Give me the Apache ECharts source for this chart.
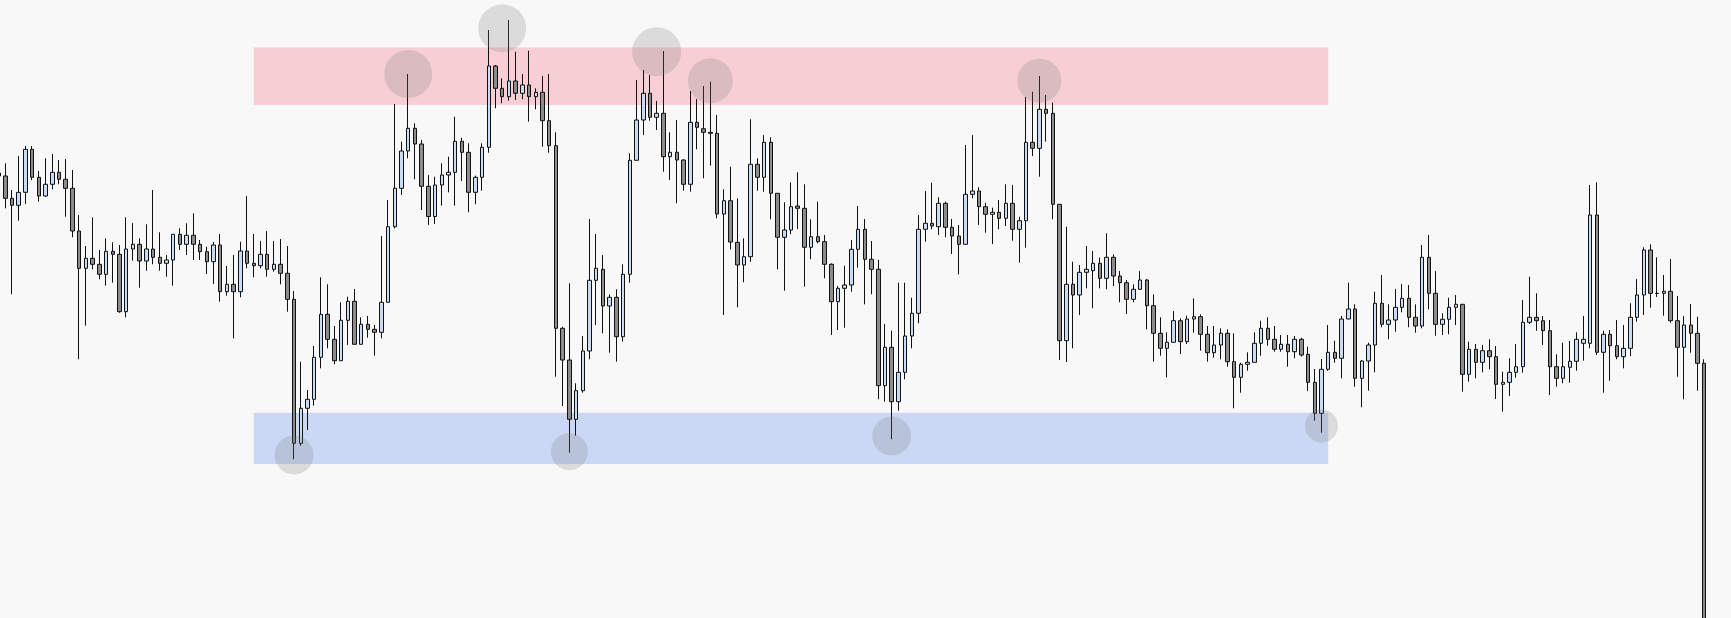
<!DOCTYPE html>
<html>
<head>
<meta charset="utf-8">
<script src="https://cdn.jsdelivr.net/npm/echarts@6/dist/echarts.min.js"></script>
<style>
html,body{margin:0;padding:0;background:#f8f8f8;overflow:hidden;width:1731px;height:618px;position:relative;}
#chart{position:absolute;left:-10px;top:0;width:1741px;height:618px;}
</style>
</head>
<body>
<div id="chart"></div>
<script>
// OHLC values (price units), one entry per candle
const opens = [
445,442,419.7,412.7,425.7,468.7,440.7,422,433.7,445.7,
438.7,429.7,387,349.7,359.7,353.7,343.7,366.7,363.7,306.3,
369,373.7,357,369,360.7,354.7,358,383.7,373.7,382.7,
373.7,366.3,356.3,373,326.3,333.7,326.3,367,354.7,352.3,
363.7,348.7,353.7,344.7,318.7,174.7,209.7,218.7,260.7,303.7,
278.7,257.3,297.7,316.7,273.7,293.7,288.7,285.7,315.7,391.3,
429.7,467,489.7,474,431.7,401.5,433,443,445.7,476.7,
465.7,425.7,440.7,470.7,552,529.7,521.3,537,524.7,533,
521.3,525.7,497.3,472.3,289.7,258,198.7,227.3,267,337.7,
348.7,312,320.7,281.3,343.7,457.7,498,524.7,500.7,504.7,
461.3,465.7,458,433.7,495.7,489.3,485.7,484.7,404,417.3,
375.7,353,361.3,453.7,440.7,475.7,424.7,380.7,388,412,
409.7,370.7,381.3,376.3,353.7,316.3,329.7,333,368.7,388.7,
358.7,348.7,232.3,270.7,216.3,245.7,282,304.7,388.7,394.7,
391.3,414.7,390.7,382,373.7,423.7,427,411.3,403.7,405.7,
399.7,414.7,388.7,397.3,475.7,469.7,508.7,504.7,413.7,277.3,
333.7,323,345.7,347.3,354.7,339.7,360.7,342,335.3,318.7,
328.7,338,312.3,284.7,269.7,275.7,297.3,276.3,299,301.3,
283.7,265.3,273,284.7,256.3,240.7,253.7,255.7,274.7,289.7,
278.7,268.7,273.7,266.3,278.7,263.7,235.7,204.7,248.7,265.7,
259.7,299,309,239.7,257,273,314.7,293.7,298,310.7,
319.7,300.7,292,360.7,324.7,293.7,298.7,310.7,313.7,243.7,
268.7,255.7,267.3,261.3,233.7,235.7,245.7,251.3,295.7,300.7,
297.3,287.3,251.3,239.7,250.7,256.7,274.7,274.7,403,265.7,
283.7,272.3,261.3,269.7,300.7,323,368,324.7,324.7,326.7,
297.3,270.7,293,284.7,254.7
];
const closes = [
442,419.7,412.7,425.7,468.7,440.7,422,433.7,445.7,438.7,
429.7,387,349.7,359.7,353.7,343.7,366.7,363.7,306.3,369,
373.7,357,369,360.7,354.7,358,383.7,373.7,382.7,373.7,
366.3,356.3,373,326.3,333.7,326.3,367,354.7,352.3,363.7,
348.7,353.7,344.7,318.7,174.7,209.7,218.7,260.7,303.7,278.7,
257.3,297.7,316.7,273.7,293.7,288.7,285.7,315.7,391.3,429.7,
467,489.7,474,431.7,401.5,433,443,445.7,476.7,465.7,
425.7,440.7,470.7,552,529.7,521.3,537,524.7,533,521.3,
525.7,497.3,472.3,289.7,258,198.7,227.3,267,337.7,349.7,
312,320.7,281.3,343.7,457.7,498,524.7,500.7,504.7,461.3,
465.7,458,433.7,495.7,490.7,485.7,484.7,404,417.3,376,
353,361.3,453.7,440.7,475.7,424.7,380.7,388,411.3,409.7,
370.7,381.3,376.3,353.7,316.3,329.7,333,368.7,388.7,358.7,
348.7,232.3,270.7,216.3,245.7,282,304.7,388.7,394.7,392,
414.7,390.7,382,373.7,423.7,427,411.3,403.7,405.7,399.7,
414.7,388.7,397.3,475.7,469.7,508.7,504.7,413.7,277.3,333.7,
323,345.7,348.7,354.7,339.7,360.7,342,335.3,318.7,328.7,
338,312.3,284.7,269.7,275.7,297.3,276.3,299,301.3,283.7,
265.3,273,284.7,256.3,240.7,253.7,255.7,274.7,289.7,278.7,
268.7,273.7,266.3,278.7,263,235.7,204.7,248.7,265.7,259.7,
299,309,239.7,257,273,314.7,293.7,298,310.7,319.7,
300.7,292,360.7,324.7,293.7,298.7,310.7,313.7,243.7,268.7,
255.7,267.3,261.3,233.7,235.7,245.7,251.3,295.7,300.7,297.3,
287.3,251.3,239.7,251.3,256.7,278.7,278.7,403,265.7,283.7,
272.3,261.3,269.7,300.7,323,368,324.7,324.5,326.7,297.3,
270.7,293,284.7,254.7,-40
];
const lows = [
438,409.7,323.7,397.3,414,438,416.3,421.3,428.7,433.7,
401.3,380.7,258.7,292.3,348.7,338.7,332.3,335.3,305.3,300.7,
357.3,330.3,347.3,353.7,347.3,341.3,332.3,368,363,358,
358,344,334,316.3,322.3,279.7,320.7,349.7,340.7,349.7,
341.3,346.3,333.7,306.3,158.7,172.3,188,212.3,249.7,269.7,
253.7,257.3,273,273.7,273.7,280.3,262.3,279.7,315.3,389.7,
423,459.7,438.7,408,393,394,412.3,425.7,412.3,437,
405.7,413.7,427.3,465.3,509.7,514.7,517.3,518,518.7,496.3,
508.7,471.3,465.3,241.3,212,165.3,182.3,225.3,258.7,293,
284.7,265.3,256.3,276.3,335.3,457.7,483,497.3,488,446.3,
438,414.7,427.3,426.3,468.7,439.7,452.3,399.7,303,368.7,
310.7,335.7,356.3,427.3,426.3,398.7,348.7,327.3,383.7,389,
331.3,358.7,374.7,339.7,283,288,290.3,326.3,350.3,313.7,
323.7,218.7,216.3,178.7,207.3,238.7,269.7,294.7,376.3,388.7,
383,380.7,364,343.7,373.7,419.7,393,385.3,374,388.7,
392,377.3,355.3,370.3,462,441.3,476.3,398.7,258,256,
269.7,303,329.7,309.7,329.7,328.7,332,315.7,304,315.7,
328,288.7,256.3,262.3,240.7,275.7,264,274,285.3,267.3,
256.3,260.3,258.7,251.3,209.7,225.3,247.3,255.7,262.3,272.3,
266.3,266.3,251.3,259.7,261.3,227,197.3,185.3,247.3,255.3,
239.7,298.7,231.3,210.7,227.3,245.7,290.7,278.7,286.3,305.7,
290.7,285.3,289.7,308.7,282.3,283,283.7,293,226.3,236.3,
239.7,245.7,248.7,219,206.3,222,240.3,245.3,294,287.3,
273,223,231.3,234.7,235.3,247.3,257.3,269.7,263,225.3,
237.3,258.7,249.7,262,296.3,303,310.3,321,302.3,295.3,
241.3,218.7,265.3,227.3,-50
];
const highs = [
448,454.7,428,462,472,472,447,459.7,464,458,
459,448,403,372,400.7,368,379.7,375.7,373,400.7,
395,379.7,393.7,428,385.7,363,383.7,389.7,394.7,404.7,
378,371.3,376,384,352,363,376.3,422,384,377,
387,377,379,372,327,256.3,228,272,340.7,333.7,
292,315.7,321.3,329,300.7,302,293,382,418,514,
476.3,544,494.7,478,443,441.3,454.7,461.3,501.3,480.3,
474.7,442.3,474.7,588,553,539.7,598,566.3,544,567.3,
529.7,542,544,485.7,291.3,334.7,234.7,282,399,384,
363,323.7,328.7,353.7,464.7,538,548,543,517,567,
485.7,498,458.7,527,519,532,536.3,503,428.7,451.3,
419.7,379.7,498.7,459.7,483,480.7,424.7,415.7,435.7,445.7,
433.7,398.7,416.3,383,354.7,332,352.3,378,412,399,
377,358,294,287.3,335.3,335.3,320.3,403,427,435.3,
420.7,416.3,399,393,473,483,430.7,415.3,410.3,418,
433.7,433,401.3,521,526.3,542,523,515.3,413.7,391.3,
356.3,353,372,367,360.3,384.7,363.7,347,338,333.7,
347,339,323.7,300.7,285.7,307,299.7,302.3,319.7,303.7,
292,292,289.7,288.7,284.7,255.3,265.7,285.7,297.3,300.7,
292,283,283,282,280.3,271.3,249,259,293,277.3,
302,335.3,313.7,258,275.3,326.3,343,313.7,329,334,
333,313.7,373,383,347,304.7,320.3,323,313.7,276.3,
274,273,278.7,272,246.3,259.7,274,318,341.3,324.7,
302,298,263.7,275.3,277,285.7,302,433,435.7,287.3,
288,298,293,314.7,339,370.7,373.7,360.7,343,359,
322,302,314,301.3,258.7
];
// candle labels (no visible axis labels in the reference)
const categories = [];
for (let i = 0; i < opens.length; i++) categories.push(String(i + 1));

// highlighted turning points: candle index and price
const markIdx = [44, 61, 75, 85, 98, 106, 133, 155, 197];
const markPrice = [163, 544, 589.7, 166.3, 566.3, 537.3, 182, 537.3, 192];
// zones: [startIdx, endIdx, lowPrice, highPrice]
const resistanceZone = [38, 198, 513, 570.5];
const supportZone = [38, 198, 154, 205.3];

// styling (sizes of highlight circles, px)
const markSizes = [39, 48, 48, 37, 49, 45, 39, 44, 33];

const ohlc = opens.map((o, i) => [o, closes[i], lows[i], highs[i]]);
const marks = markIdx.map((x, i) => ({ value: [x, markPrice[i]], symbolSize: markSizes[i] }));

const chart = echarts.init(document.getElementById('chart'), null, { renderer: 'canvas' });
chart.setOption({
  animation: false,
  backgroundColor: '#f8f8f8',
  grid: { left: 5.24, right: 23.4, top: 0, bottom: 0 },
  xAxis: {
    type: 'category', data: categories, boundaryGap: true,
    show: false
  },
  yAxis: { type: 'value', min: 0, max: 618, show: false, splitLine: { show: false } },
  series: [
    {
      type: 'line', data: [], z: 1, silent: true,
      markArea: {
        silent: true,
        data: [
          [{ xAxis: resistanceZone[0], yAxis: resistanceZone[3], itemStyle: { color: '#f6ced4' } },
           { xAxis: resistanceZone[1], yAxis: resistanceZone[2] }],
          [{ xAxis: supportZone[0], yAxis: supportZone[3], itemStyle: { color: '#cbd8f5' } },
           { xAxis: supportZone[1], yAxis: supportZone[2] }]
        ]
      }
    },
    {
      type: 'candlestick', data: ohlc, z: 5, barWidth: 4, silent: true,
      itemStyle: {
        color: '#c8dcf5', color0: '#8c8c8c',
        borderColor: '#111111', borderColor0: '#111111', borderColorDoji: '#111111',
        borderWidth: 1
      }
    },
    {
      type: 'scatter', data: marks, z: 10, silent: true,
      itemStyle: { color: 'rgba(120,120,120,0.28)' }
    }
  ]
});
</script>
</body>
</html>
